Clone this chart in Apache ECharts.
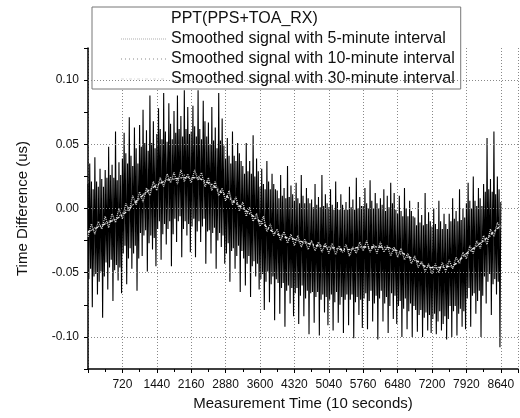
<!DOCTYPE html>
<html><head><meta charset="utf-8">
<script src="https://cdn.jsdelivr.net/npm/echarts@6/dist/echarts.min.js"></script>
<style>html,body{margin:0;padding:0;background:#fff}#c{width:520px;height:418px}</style>
</head><body><div id="c"></div>
<script>
// x tick labels (Measurement Time, 10 s units)
const xTicks = [720, 1440, 2160, 2880, 3600, 4320, 5040, 5760, 6480, 7200, 7920, 8640];
// y tick labels (us)
const yTicks = [-0.10, -0.05, 0.00, 0.05, 0.10];

const seriesNames = ['PPT(PPS+TOA_RX)', 'Smoothed signal with 5-minute interval',
  'Smoothed signal with 10-minute interval', 'Smoothed signal with 30-minute interval'];

// raw PPT signal, one value every 18 samples starting at 0
const rawStep = 18;
const rawValues = [
  0.019, -0.055, 0.035, -0.047, 0.021, -0.077, 0.015, -0.053, 0.040, -0.051, 0.021, -0.067, 0.017, -0.057, 0.031, -0.049, 0.023, -0.085, 0.017, -0.053,
  0.030, -0.042, 0.024, -0.063, 0.048, -0.046, 0.026, -0.040, 0.034, -0.072, 0.024, -0.048, 0.060, -0.044, 0.022, -0.056, 0.036, -0.046, 0.026, -0.066,
  0.039, -0.035, 0.059, -0.029, 0.043, -0.059, 0.035, -0.039, 0.071, -0.031, 0.041, -0.047, 0.033, -0.035, 0.063, -0.029, 0.047, -0.064, 0.035, -0.039,
  0.065, -0.019, 0.048, -0.037, 0.077, -0.021, 0.051, -0.017, 0.061, -0.049, 0.045, -0.027, 0.088, -0.021, 0.051, -0.032, 0.068, -0.023, 0.047, -0.045,
  0.058, -0.016, 0.078, -0.010, 0.062, -0.040, 0.054, -0.020, 0.090, -0.012, 0.060, -0.028, 0.052, -0.016, 0.082, -0.010, 0.066, -0.045, 0.054, -0.020,
  0.076, -0.008, 0.059, -0.026, 0.088, -0.010, 0.062, -0.006, 0.072, -0.038, 0.056, -0.016, 0.092, -0.010, 0.062, -0.021, 0.079, -0.012, 0.058, -0.034,
  0.060, -0.014, 0.080, -0.008, 0.064, -0.038, 0.056, -0.018, 0.092, -0.010, 0.062, -0.026, 0.054, -0.014, 0.084, -0.008, 0.068, -0.043, 0.056, -0.018,
  0.067, -0.017, 0.050, -0.035, 0.079, -0.019, 0.053, -0.015, 0.063, -0.047, 0.047, -0.025, 0.090, -0.019, 0.053, -0.030, 0.070, -0.021, 0.049, -0.043,
  0.039, -0.035, 0.055, -0.027, 0.041, -0.057, 0.035, -0.033, 0.060, -0.031, 0.041, -0.047, 0.037, -0.037, 0.051, -0.029, 0.043, -0.065, 0.037, -0.033,
  0.033, -0.039, 0.027, -0.060, 0.051, -0.043, 0.029, -0.037, 0.037, -0.069, 0.027, -0.045, 0.057, -0.041, 0.025, -0.053, 0.039, -0.043, 0.029, -0.063,
  0.017, -0.055, 0.031, -0.051, 0.019, -0.079, 0.015, -0.057, 0.037, -0.049, 0.021, -0.073, 0.015, -0.059, 0.027, -0.053, 0.019, -0.087, 0.015, -0.055,
  0.014, -0.058, 0.008, -0.082, 0.026, -0.062, 0.010, -0.058, 0.016, -0.092, 0.008, -0.064, 0.033, -0.060, 0.009, -0.074, 0.018, -0.062, 0.011, -0.084,
  0.006, -0.066, 0.020, -0.062, 0.008, -0.090, 0.004, -0.068, 0.026, -0.060, 0.010, -0.084, 0.004, -0.070, 0.016, -0.064, 0.008, -0.098, 0.004, -0.066,
  0.007, -0.065, 0.001, -0.089, 0.019, -0.069, 0.003, -0.065, 0.009, -0.099, 0.001, -0.071, 0.026, -0.067, 0.002, -0.081, 0.011, -0.069, 0.004, -0.091,
  0.001, -0.071, 0.015, -0.067, 0.003, -0.095, -0.001, -0.073, 0.021, -0.065, 0.005, -0.089, -0.001, -0.075, 0.011, -0.069, 0.003, -0.097, -0.001, -0.071,
  0.005, -0.067, -0.001, -0.091, 0.017, -0.071, 0.001, -0.067, 0.007, -0.101, -0.001, -0.073, 0.024, -0.069, 0.000, -0.083, 0.009, -0.071, 0.002, -0.093,
  0.002, -0.070, 0.016, -0.066, 0.004, -0.094, 0.000, -0.072, 0.022, -0.064, 0.006, -0.088, 0.000, -0.074, 0.012, -0.068, 0.004, -0.102, 0.000, -0.070,
  0.008, -0.064, 0.003, -0.088, 0.015, -0.074, -0.002, -0.069, 0.010, -0.097, 0.001, -0.076, 0.020, -0.066, 0.004, -0.086, 0.012, -0.068, -0.001, -0.090,
  -0.004, -0.076, 0.010, -0.072, -0.002, -0.100, -0.006, -0.078, 0.016, -0.070, 0.000, -0.094, -0.006, -0.080, 0.006, -0.074, -0.002, -0.100, -0.006, -0.076,
  -0.007, -0.079, -0.013, -0.096, 0.005, -0.083, -0.011, -0.079, -0.005, -0.100, -0.013, -0.085, 0.012, -0.081, -0.012, -0.095, -0.003, -0.083, -0.010, -0.097,
  -0.014, -0.086, 0.000, -0.082, -0.012, -0.098, -0.016, -0.088, 0.006, -0.080, -0.010, -0.095, -0.016, -0.090, -0.004, -0.084, -0.012, -0.102, -0.016, -0.086,
  -0.004, -0.076, -0.010, -0.100, 0.008, -0.080, -0.008, -0.076, -0.002, -0.099, -0.010, -0.082, 0.015, -0.078, -0.009, -0.092, 0.000, -0.080, -0.007, -0.094,
  0.004, -0.070, 0.020, -0.062, 0.006, -0.092, 0.000, -0.068, 0.025, -0.066, 0.006, -0.082, 0.002, -0.072, 0.016, -0.064, 0.008, -0.100, 0.002, -0.068,
  0.019, -0.053, 0.013, -0.074, 0.055, -0.057, 0.015, -0.051, 0.023, -0.083, 0.013, -0.059, 0.060, -0.055, 0.011, -0.067, 0.025, -0.057, 0.015, -0.108,
  0.005
];

// 5-minute smoothed signal, one value every 72 samples
const smooth5Step = 72;
const smooth5Values = [
  -0.022, -0.012, -0.020, -0.010, -0.016,
  -0.006, -0.015, -0.004, -0.011, 0.000,
  -0.008, 0.004, -0.002, 0.010, 0.003,
  0.013, 0.005, 0.016, 0.010, 0.021,
  0.014, 0.024, 0.017, 0.027, 0.020,
  0.028, 0.019, 0.030, 0.021, 0.027,
  0.020, 0.030, 0.022, 0.028, 0.017,
  0.024, 0.014, 0.021, 0.010, 0.016,
  0.006, 0.014, 0.003, 0.009, -0.002,
  0.005, -0.006, 0.001, -0.010, -0.004,
  -0.014, -0.006, -0.018, -0.012, -0.021,
  -0.016, -0.025, -0.018, -0.027, -0.020,
  -0.029, -0.021, -0.030, -0.024, -0.032,
  -0.025, -0.033, -0.026, -0.034, -0.027,
  -0.035, -0.027, -0.036, -0.029, -0.034,
  -0.028, -0.037, -0.030, -0.035, -0.026,
  -0.033, -0.025, -0.034, -0.028, -0.035,
  -0.026, -0.034, -0.029, -0.037, -0.030,
  -0.038, -0.031, -0.040, -0.035, -0.043,
  -0.037, -0.046, -0.041, -0.049, -0.043,
  -0.051, -0.043, -0.050, -0.042, -0.049,
  -0.040, -0.047, -0.038, -0.043, -0.034,
  -0.039, -0.029, -0.035, -0.025, -0.031,
  -0.021, -0.028, -0.016, -0.022, -0.011,
  -0.015
];

// 10-minute smoothed signal, one value every 144 samples
const smooth10Step = 144;
const smooth10Values = [
  -0.019, -0.015, -0.013, -0.010, -0.008,
  -0.004, 0.001, 0.005, 0.011, 0.014,
  0.019, 0.021, 0.024, 0.022, 0.026,
  0.023, 0.025, 0.020, 0.019, 0.013,
  0.011, 0.006, 0.003, -0.002, -0.006,
  -0.011, -0.014, -0.019, -0.020, -0.024,
  -0.023, -0.027, -0.026, -0.030, -0.028,
  -0.032, -0.030, -0.034, -0.031, -0.033,
  -0.029, -0.032, -0.029, -0.032, -0.031,
  -0.035, -0.036, -0.040, -0.041, -0.045,
  -0.045, -0.048, -0.044, -0.046, -0.040,
  -0.036, -0.032, -0.027, -0.024, -0.018,
  -0.014
];

// 30-minute smoothed signal, one value every 360 samples
const smooth30Step = 360;
const smooth30Values = [
  -0.018, -0.012, -0.005, 0.008, 0.018, 0.023, 0.024, 0.020, 0.010, 0.000,
  -0.010, -0.020, -0.024, -0.028, -0.030, -0.032, -0.030, -0.030, -0.033, -0.040,
  -0.046, -0.045, -0.035, -0.025, -0.013
];

const toPairs = (vals, step) => vals.map((v, i) => [i * step, v]);

const FONT = 'Liberation Sans';
const chart = echarts.init(document.getElementById('c'), null, {renderer: 'canvas'});

chart.setOption({
  animation: false,
  backgroundColor: '#fff',
  textStyle: {fontFamily: FONT, color: '#111'},
  grid: {left: 88, right: 2, top: 48, bottom: 49},
  legend: {
    data: [
      {name: seriesNames[0], icon: 'rect', itemStyle: {opacity: 0}},
      {name: seriesNames[1], itemStyle: {opacity: 0}},
      {name: seriesNames[2], itemStyle: {opacity: 0}},
      {name: seriesNames[3], itemStyle: {opacity: 0}}
    ],
    orient: 'vertical', left: 92, top: 7,
    backgroundColor: '#fff', borderColor: '#777', borderWidth: 1,
    padding: [4, 6, 2, 28],
    itemWidth: 45, itemHeight: 14, itemGap: 4,
    textStyle: {fontFamily: FONT, fontSize: 16, color: '#111'},
    selectedMode: false
  },
  xAxis: {
    type: 'value', min: 0, max: 9000, interval: 720,
    name: 'Measurement Time (10 seconds)', nameLocation: 'middle', nameGap: 23,
    nameTextStyle: {fontFamily: FONT, fontSize: 15, color: '#111'},
    axisLine: {show: true, onZero: false, lineStyle: {color: '#000', width: 1.5}},
    axisTick: {show: true, inside: false, length: 4, lineStyle: {color: '#000'}},
    minorTick: {show: true, splitNumber: 2, length: 3, lineStyle: {color: '#000'}},
    axisLabel: {fontFamily: FONT, fontSize: 12, color: '#111', margin: 10,
      showMaxLabel: false,
      formatter: v => xTicks.indexOf(Math.round(v)) >= 0 ? String(Math.round(v)) : ''},
    splitLine: {show: true, lineStyle: {color: '#888', type: [1, 2], width: 1}}
  },
  yAxis: {
    type: 'value', min: -0.125, max: 0.125, interval: 0.025,
    name: 'Time Difference (us)', nameLocation: 'middle', nameGap: 58, nameRotate: 90,
    nameTextStyle: {fontFamily: FONT, fontSize: 15, color: '#111'},
    axisLine: {show: true, onZero: false, lineStyle: {color: '#000', width: 1.5}},
    axisTick: {show: true, inside: false, length: 4, lineStyle: {color: '#000'}},
    axisLabel: {fontFamily: FONT, fontSize: 12, color: '#111', margin: 9,
      formatter: v => {
        const t = yTicks.find(y => Math.abs(y - v) < 1e-6);
        return t === undefined ? '' : t.toFixed(2);
      }},
    splitLine: {show: false}
  },
  series: [
    {
      name: 'grid', type: 'line', data: [], z: 1, silent: true,
      markLine: {
        silent: true, symbol: 'none', label: {show: false}, animation: false,
        lineStyle: {color: '#888', type: [1, 2], width: 1},
        data: yTicks.map(y => ({yAxis: y}))
      }
    },
    {
      name: seriesNames[0], type: 'line', data: toPairs(rawValues, rawStep),
      showSymbol: false, symbol: 'none', z: 2, sampling: false,
      lineStyle: {color: '#000', width: 1.1}, itemStyle: {color: '#000'}
    },
    {
      name: seriesNames[1], type: 'line', data: toPairs(smooth5Values, smooth5Step),
      showSymbol: false, symbol: 'none', z: 3,
      lineStyle: {color: '#d6d6d6', width: 1.3, type: [1, 1]}, itemStyle: {color: '#d6d6d6'}
    },
    {
      name: seriesNames[2], type: 'line', data: toPairs(smooth10Values, smooth10Step),
      showSymbol: false, symbol: 'none', z: 4,
      lineStyle: {color: '#c4c4c4', width: 1.3, type: [1, 3]}, itemStyle: {color: '#c4c4c4'}
    },
    {
      name: seriesNames[3], type: 'line', data: toPairs(smooth30Values, smooth30Step),
      showSymbol: false, symbol: 'none', smooth: true, z: 5,
      lineStyle: {color: '#ececec', width: 1.3, type: [3, 2, 1, 2]}, itemStyle: {color: '#ececec'}
    }
  ]
});
</script>
</body></html>
